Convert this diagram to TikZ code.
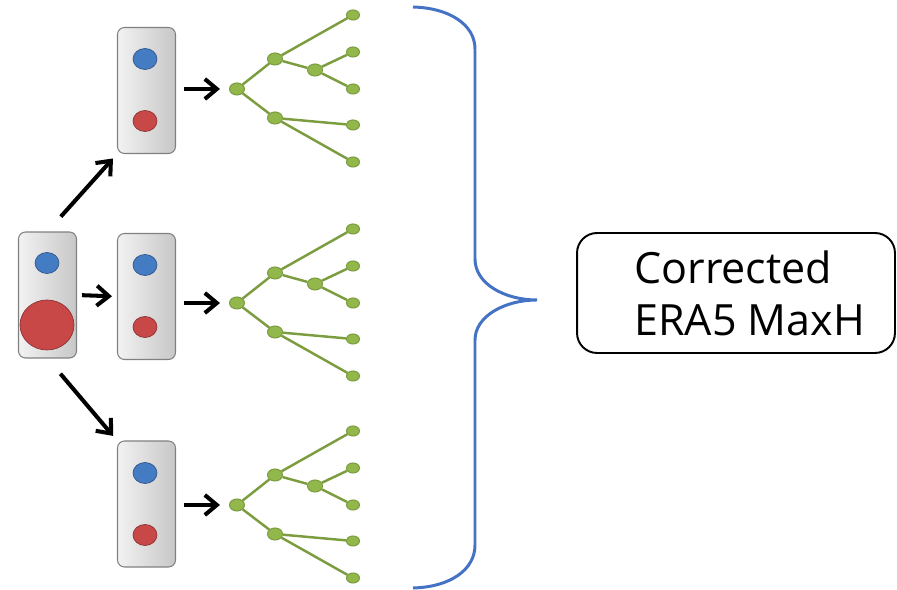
\documentclass[tikz,border=0pt]{standalone}
\usepackage{fontspec}
\setmainfont{Open Sans}
\usetikzlibrary{arrows.meta,shapes.geometric}

\definecolor{dotblue}{RGB}{68,124,196}
\definecolor{dotred}{RGB}{200,72,72}
\definecolor{leafgreen}{RGB}{146,184,76}
\definecolor{branchgreen}{RGB}{124,156,64}
\definecolor{braceblue}{RGB}{68,114,196}

\tikzset{
  cell/.style={draw=black!50, line width=0.6pt, rounded corners=0.14cm,
    left color=black!5, right color=black!22,
    minimum width=1.16cm, minimum height=2.52cm},
  dot/.style={ellipse, draw=#1!70!black, fill=#1, line width=0.4pt,
    minimum width=0.48cm, minimum height=0.42cm, inner sep=0pt},
  leaf/.style={ellipse, draw=branchgreen, fill=leafgreen, line width=0.6pt,
    minimum width=0.26cm, minimum height=0.2cm, inner sep=0pt},
  knot/.style={leaf, minimum width=0.3cm, minimum height=0.24cm},
  branch/.style={branchgreen, line width=1.4pt},
  arr/.style={-{Straight Barb[length=0.24cm,width=0.4cm]}, line width=2.3pt},
}

\begin{document}
\begin{tikzpicture}[x=0.02cm,y=-0.02cm]
  \useasboundingbox (0,0) rectangle (897,590);
  % Cells with the two dots
  \node[cell]   (L)   at (47.5,295) {};
  \node[cell]   (T)   at (146.5,90.5) {};
  \node[cell]   (M)   at (146.5,296.5) {};
  \node[cell]   (B)   at (146.5,504) {};
  \node[dot=dotblue] (L-b) at (47,263) {};
  \node[dot=dotred, minimum width=1.08cm, minimum height=1cm] (L-r) at (47,325) {};
  \foreach \n/\y in {T/59, M/265, B/473} {
    \node[dot=dotblue] (\n-b) at (145,\y) {};
    \node[dot=dotred]  (\n-r) at (145,\y+62) {};
  }
  \draw[arr, shorten <=0.4cm, shorten >=0.12cm] (L.north) -- (T.south west);
  \draw[arr, shorten <=0.1cm, shorten >=0.1cm] (L.east) -- (M.west);
  \draw[arr, shorten <=0.4cm, shorten >=0.12cm] (L.south) -- (B.north west);
  % Trees
  \foreach \n/\y in {T/89, M/303, B/505} {
    \node[knot] (\n-0) at (237,\y) {};
    \node[knot] (\n-1) at (275,\y-30) {};
    \node[knot] (\n-2) at (275,\y+29) {};
    \node[knot] (\n-3) at (315,\y-19) {};
    \foreach \k/\d in {a/-74, b/-37, c/0, d/36, e/73}
      \node[leaf] (\n-\k) at (353,\y+\d) {};
    \draw[branch] (\n-0) -- (\n-1) (\n-0) -- (\n-2) (\n-1) -- (\n-a)
      (\n-1) -- (\n-3) (\n-3) -- (\n-b) (\n-3) -- (\n-c)
      (\n-2) -- (\n-d) (\n-2) -- (\n-e);
    \draw[arr, shorten <=0.16cm, shorten >=0.18cm] (\n-0 -| \n.east) -- (\n-0);
  }
  % Brace and result
  \coordinate (tip) at (537,300);
  \draw[braceblue, line width=1.7pt] (413,7) .. controls (450,8) and (475,25) .. (475,49)
    -- (475,259) .. controls (475,284) and (505,300) .. (tip)
    .. controls (505,300) and (475,316) .. (475,340)
    -- (475,545) .. controls (475,570) and (450,587) .. (413,588);
  \node[draw, line width=1.1pt, rounded corners=0.4cm, minimum width=6.36cm,
    minimum height=2.4cm, align=left, font=\fontsize{24.5}{29.6}\selectfont]
    (era) at (736,293) {\hspace*{0.55cm}Corrected\\\hspace*{0.55cm}ERA5 MaxH};
\end{tikzpicture}
\end{document}
